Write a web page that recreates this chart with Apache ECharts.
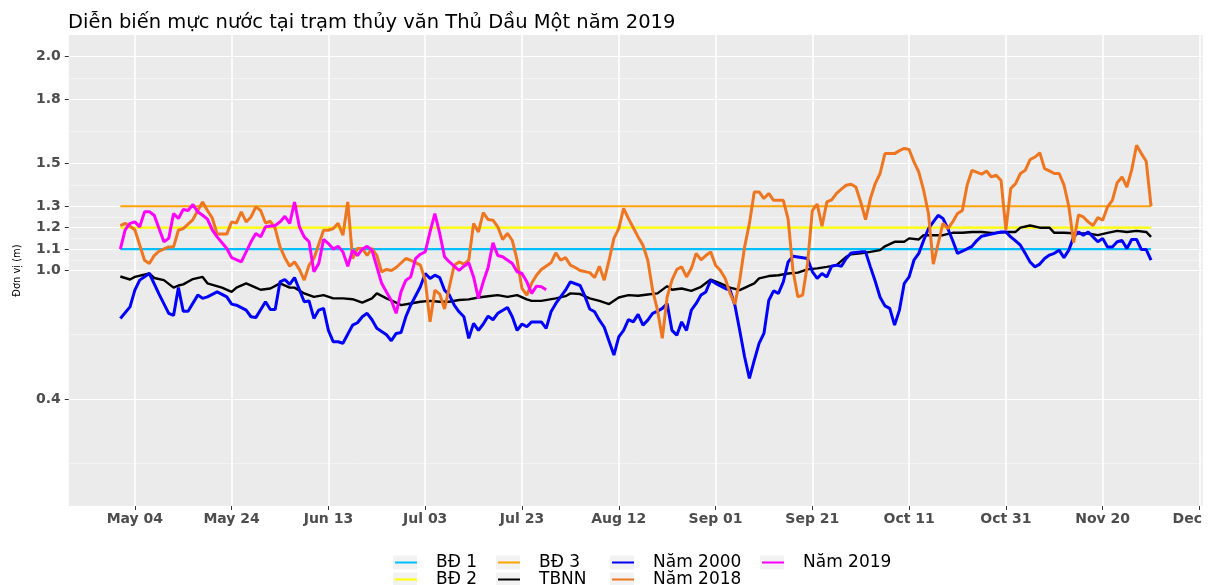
<!DOCTYPE html>
<html>
<head>
<meta charset="utf-8">
<title>Diễn biến mực nước tại trạm thủy văn Thủ Dầu Một năm 2019</title>
<script src="https://cdn.jsdelivr.net/npm/echarts@6/dist/echarts.min.js"></script>
<style>
  html, body { margin: 0; padding: 0; background: #fff; }
  #chart { width: 1208px; height: 585px; }
</style>
</head>
<body>
<div id="chart"></div>
<script>
// x = days counted from 01 May 2019 (day 0)
const xTickDays = [3, 23, 43, 63, 83, 103, 123, 143, 163, 183, 203, 223];
const xTickLabels = ['May 04', 'May 24', 'Jun 13', 'Jul 03', 'Jul 23', 'Aug 12',
  'Sep 01', 'Sep 21', 'Oct 11', 'Oct 31', 'Nov 20', 'Dec 10'];
const yTicks = [0.4, 1.0, 1.1, 1.2, 1.3, 1.5, 1.8, 2.0];
const yMinorTicks = [0.1, 0.7, 1.05, 1.15, 1.25, 1.4, 1.65, 1.9];

const firstDay = 0, lastDay = 213;
const bd1 = 1.1, bd2 = 1.2, bd3 = 1.3;

// [day, water level (m)]
const nam2000 = [[0,0.776],[2,0.83],[3,0.908],[4,0.955],[6,0.986],[8,0.89],[10,0.80],[11,0.79],[12,0.92],[13,0.81],[14,0.81],[16,0.885],[17,0.87],[18,0.877],[20,0.90],[22,0.877],[23,0.843],[24,0.838],[26,0.815],[27,0.784],[28,0.78],[30,0.854],[31,0.818],[32,0.818],[33,0.947],[34,0.958],[35,0.935],[36,0.967],[37,0.91],[38,0.854],[39,0.858],[40,0.776],[41,0.815],[42,0.823],[43,0.72],[44,0.667],[45,0.667],[46,0.66],[48,0.745],[49,0.756],[50,0.784],[51,0.80],[52,0.77],[53,0.73],[55,0.70],[56,0.672],[57,0.706],[58,0.71],[59,0.784],[60,0.838],[62,0.924],[63,0.986],[64,0.963],[65,0.978],[66,0.967],[67,0.908],[68,0.885],[69,0.838],[70,0.807],[71,0.784],[72,0.683],[73,0.753],[74,0.72],[75,0.75],[76,0.787],[77,0.77],[78,0.80],[80,0.827],[81,0.784],[82,0.72],[83,0.75],[84,0.737],[85,0.76],[87,0.76],[88,0.73],[89,0.807],[90,0.846],[92,0.908],[93,0.947],[95,0.93],[96,0.88],[97,0.82],[98,0.807],[99,0.768],[100,0.735],[101,0.67],[102,0.605],[103,0.69],[104,0.72],[105,0.77],[106,0.76],[107,0.795],[108,0.745],[109,0.768],[110,0.80],[111,0.81],[112,0.823],[113,0.846],[114,0.72],[115,0.698],[116,0.76],[117,0.72],[118,0.815],[119,0.846],[120,0.885],[121,0.90],[122,0.955],[123,0.94],[125,0.916],[126,0.908],[127,0.838],[128,0.72],[129,0.597],[130,0.496],[131,0.58],[132,0.66],[133,0.706],[134,0.86],[135,0.905],[136,0.893],[137,0.947],[138,1.04],[139,1.067],[141,1.06],[142,1.056],[143,0.995],[144,0.963],[145,0.986],[146,0.97],[147,1.02],[148,1.025],[149,1.02],[150,1.056],[151,1.082],[153,1.087],[154,1.087],[155,1.017],[156,0.95],[157,0.875],[158,0.835],[159,0.823],[160,0.745],[161,0.815],[162,0.94],[163,0.97],[164,1.048],[165,1.08],[166,1.14],[167,1.196],[168,1.227],[169,1.258],[170,1.243],[171,1.196],[172,1.14],[173,1.08],[174,1.09],[176,1.113],[177,1.14],[178,1.16],[180,1.17],[182,1.18],[183,1.18],[184,1.157],[185,1.138],[186,1.118],[187,1.08],[188,1.04],[189,1.017],[190,1.03],[191,1.056],[192,1.072],[193,1.08],[194,1.095],[195,1.06],[196,1.095],[197,1.157],[198,1.18],[199,1.165],[200,1.18],[201,1.157],[202,1.134],[203,1.15],[204,1.11],[205,1.11],[206,1.134],[207,1.14],[208,1.103],[209,1.145],[210,1.145],[211,1.098],[212,1.098],[213,1.048]];

const nam2018 = [[0,1.21],[1,1.22],[2,1.207],[3,1.19],[5,1.048],[6,1.033],[7,1.07],[8,1.09],[10,1.11],[11,1.11],[12,1.188],[13,1.196],[15,1.238],[16,1.28],[17,1.32],[18,1.28],[19,1.245],[20,1.17],[22,1.17],[23,1.227],[24,1.222],[25,1.274],[26,1.227],[27,1.25],[28,1.297],[29,1.28],[30,1.222],[31,1.23],[32,1.196],[33,1.11],[34,1.06],[35,1.02],[36,1.04],[37,1.005],[38,0.955],[39,1.025],[40,1.056],[42,1.188],[43,1.188],[44,1.196],[45,1.22],[46,1.165],[47,1.32],[48,1.056],[49,1.103],[50,1.103],[51,1.07],[52,1.103],[53,1.07],[54,0.994],[55,1.005],[56,1.0],[57,1.014],[59,1.056],[60,1.048],[62,1.025],[63,0.955],[64,0.76],[65,0.908],[66,0.89],[67,0.82],[68,0.924],[69,1.025],[70,1.04],[71,1.03],[72,1.048],[73,1.22],[74,1.18],[75,1.27],[76,1.238],[77,1.235],[78,1.204],[79,1.145],[80,1.173],[81,1.14],[82,1.048],[83,0.916],[84,0.885],[85,0.94],[86,0.978],[87,1.005],[89,1.036],[90,1.082],[91,1.048],[92,1.06],[93,1.025],[94,1.014],[95,1.0],[97,0.99],[98,0.967],[99,1.02],[100,0.955],[101,1.048],[102,1.15],[103,1.196],[104,1.29],[105,1.243],[106,1.2],[107,1.157],[108,1.118],[109,1.048],[110,0.908],[111,0.815],[112,0.683],[113,0.877],[114,0.955],[115,1.005],[116,1.017],[117,0.97],[118,1.01],[119,1.08],[120,1.05],[121,1.07],[122,1.087],[123,1.025],[124,1.0],[125,0.963],[126,0.893],[127,0.843],[128,0.955],[129,1.11],[130,1.22],[131,1.367],[132,1.367],[133,1.336],[134,1.36],[135,1.328],[137,1.328],[138,1.24],[139,1.0],[140,0.877],[141,0.885],[142,1.03],[143,1.28],[144,1.31],[145,1.207],[146,1.32],[147,1.33],[148,1.36],[149,1.38],[150,1.398],[151,1.403],[152,1.39],[153,1.32],[154,1.238],[155,1.336],[156,1.406],[157,1.453],[158,1.546],[160,1.546],[161,1.56],[162,1.57],[163,1.565],[164,1.507],[165,1.46],[166,1.375],[167,1.266],[168,1.03],[169,1.126],[170,1.22],[171,1.196],[172,1.227],[173,1.266],[174,1.28],[175,1.40],[176,1.468],[178,1.45],[179,1.465],[180,1.437],[181,1.445],[182,1.42],[183,1.19],[184,1.383],[185,1.406],[186,1.453],[187,1.468],[188,1.518],[189,1.53],[190,1.55],[191,1.476],[192,1.465],[193,1.453],[194,1.453],[195,1.40],[196,1.3],[197,1.13],[198,1.26],[199,1.25],[200,1.227],[201,1.21],[202,1.247],[203,1.235],[204,1.297],[205,1.328],[206,1.41],[207,1.437],[208,1.39],[209,1.47],[210,1.585],[211,1.546],[212,1.51],[213,1.30]];

const nam2019 = [[0,1.10],[1,1.19],[2,1.22],[3,1.227],[4,1.204],[5,1.274],[6,1.274],[7,1.258],[9,1.134],[10,1.15],[11,1.266],[12,1.243],[13,1.285],[14,1.28],[15,1.308],[16,1.274],[17,1.258],[18,1.24],[19,1.19],[20,1.157],[22,1.103],[23,1.06],[25,1.04],[27,1.134],[28,1.173],[29,1.157],[30,1.204],[32,1.21],[33,1.227],[34,1.253],[35,1.22],[36,1.32],[37,1.204],[38,1.157],[39,1.134],[40,0.994],[41,1.033],[42,1.145],[43,1.126],[44,1.10],[45,1.113],[46,1.087],[47,1.02],[48,1.095],[49,1.07],[50,1.10],[51,1.113],[52,1.095],[54,0.94],[55,0.90],[56,0.86],[57,0.80],[58,0.90],[59,0.955],[60,0.97],[61,1.056],[62,1.076],[63,1.087],[64,1.18],[65,1.266],[66,1.173],[67,1.064],[68,1.04],[70,1.0],[71,1.02],[72,1.036],[73,0.97],[74,0.87],[75,0.947],[76,1.014],[77,1.13],[78,1.07],[79,1.064],[81,1.033],[82,0.994],[83,0.986],[84,0.947],[85,0.893],[86,0.927],[87,0.924],[88,0.91]];

const tbnn = [[0,0.972],[2,0.958],[3,0.97],[6,0.986],[7,0.965],[9,0.955],[11,0.92],[12,0.93],[13,0.935],[15,0.96],[17,0.97],[18,0.94],[21,0.92],[23,0.90],[24,0.92],[26,0.94],[28,0.92],[29,0.91],[31,0.916],[33,0.94],[35,0.92],[36,0.92],[38,0.893],[40,0.877],[42,0.885],[44,0.87],[46,0.87],[48,0.866],[50,0.85],[52,0.87],[53,0.893],[55,0.87],[57,0.85],[58,0.838],[60,0.846],[62,0.854],[64,0.858],[66,0.854],[68,0.854],[70,0.862],[72,0.865],[74,0.874],[76,0.88],[78,0.885],[80,0.877],[82,0.885],[84,0.865],[85,0.858],[87,0.858],[90,0.87],[92,0.88],[93,0.893],[95,0.89],[97,0.87],[99,0.858],[101,0.843],[103,0.874],[105,0.885],[107,0.882],[109,0.888],[111,0.893],[113,0.927],[114,0.91],[116,0.916],[118,0.905],[120,0.924],[122,0.958],[124,0.94],[126,0.92],[128,0.908],[131,0.94],[132,0.963],[134,0.974],[136,0.978],[138,0.986],[140,0.99],[142,1.005],[144,1.01],[146,1.017],[148,1.025],[150,1.064],[151,1.076],[153,1.08],[155,1.087],[157,1.095],[158,1.113],[160,1.134],[162,1.134],[163,1.15],[165,1.145],[166,1.165],[168,1.165],[170,1.165],[172,1.176],[174,1.176],[176,1.18],[178,1.18],[180,1.175],[181,1.176],[183,1.18],[185,1.18],[186,1.2],[188,1.21],[190,1.2],[192,1.2],[193,1.176],[195,1.176],[198,1.173],[200,1.173],[202,1.165],[204,1.176],[206,1.185],[208,1.18],[210,1.185],[212,1.18],[213,1.157]];

// legend: ggplot fills it column by column, two rows
const legendNames = ['BĐ 1', 'BĐ 2', 'BĐ 3', 'TBNN', 'Năm 2000', 'Năm 2018', 'Năm 2019'];
const legendLefts = [394, 497, 611, 761];
const legendTops = [554, 571];

function line(name, data, color, width) {
  return {
    name: name, type: 'line', data: data, symbol: 'none', animation: false,
    lineStyle: { color: color, width: width }, itemStyle: { color: color }
  };
}

// each key is two stacked legends laid out the same way:
// a grey box below, the series line (symbol hidden) on top
function legendItem(name, i, isBox) {
  const item = {
    data: [name], padding: 0, itemHeight: 14,
    left: legendLefts[Math.floor(i / 2)] - (isBox ? 1 : 0), top: legendTops[i % 2],
    itemWidth: isBox ? 24 : 22, z: isBox ? 4 : 5,
    textStyle: {
      fontSize: 17, lineHeight: 14, color: isBox ? 'rgba(0,0,0,0)' : '#000',
      padding: [0, 0, 0, isBox ? 13 : 14]
    }
  };
  if (isBox) {
    item.icon = 'rect';
    item.itemStyle = { color: '#F2F2F2', borderWidth: 0 };
  } else {
    item.itemStyle = { opacity: 0, borderWidth: 0 };
  }
  return item;
}

const chart = echarts.init(document.getElementById('chart'));
chart.setOption({
  backgroundColor: '#fff',
  textStyle: { fontFamily: 'DejaVu Sans' },
  title: {
    text: 'Diễn biến mực nước tại trạm thủy văn Thủ Dầu Một năm 2019',
    left: 63, top: 8,
    textStyle: { fontSize: 19.5, fontWeight: 'normal', color: '#000', fontFamily: 'DejaVu Sans' }
  },
  grid: {
    left: 68.8, right: 5.4, top: 35, bottom: 79, outerBoundsMode: 'none',
    show: true, backgroundColor: '#EBEBEB', borderWidth: 0
  },
  legend: legendNames.map((name, i) => legendItem(name, i, true))
    .concat(legendNames.map((name, i) => legendItem(name, i, false))),
  xAxis: {
    type: 'value', min: -10.65, max: 223.65,
    axisLine: { show: false, onZero: false },
    axisTick: { customValues: xTickDays, length: 4, lineStyle: { color: '#333' } },
    axisLabel: {
      customValues: xTickDays, margin: 6,
      formatter: v => xTickLabels[xTickDays.indexOf(v)],
      fontSize: 14, fontWeight: 'bold', color: '#4D4D4D'
    },
    splitLine: { show: true, lineStyle: { color: '#fff', width: 1.6 } }
  },
  yAxis: [{
    type: 'value', min: -0.1, max: 2.1,
    name: 'Đơn vị (m)', nameLocation: 'middle', nameGap: 46, nameRotate: 90,
    nameTextStyle: { fontSize: 11, color: '#000', fontFamily: 'DejaVu Sans Condensed' },
    axisLine: { show: false, onZero: false },
    axisTick: { show: true, customValues: yTicks, length: 4, lineStyle: { color: '#333' } },
    axisLabel: {
      customValues: yTicks, margin: 8,
      formatter: v => v.toFixed(1),
      fontSize: 14, fontWeight: 'bold', color: '#4D4D4D'
    },
    splitLine: { show: true, lineStyle: { color: '#fff', width: 1.2 } }
  }, {
    type: 'value', min: -0.1, max: 2.1,
    axisLine: { show: false, onZero: false },
    axisTick: { show: false, customValues: yMinorTicks },
    axisLabel: { show: false, customValues: yMinorTicks },
    splitLine: { show: true, lineStyle: { color: '#F4F4F4', width: 1 } }
  }],
  series: [
    line('BĐ 1', [[firstDay, bd1], [lastDay, bd1]], '#00BFFF', 2.2),
    line('BĐ 2', [[firstDay, bd2], [lastDay, bd2]], '#FFFF00', 2.2),
    line('BĐ 3', [[firstDay, bd3], [lastDay, bd3]], '#FFA500', 2.2),
    line('TBNN', tbnn, '#000000', 2.4),
    line('Năm 2000', nam2000, '#0000FF', 3),
    line('Năm 2018', nam2018, '#EE7621', 3),
    line('Năm 2019', nam2019, '#FF00FF', 3)
  ]
});
window.addEventListener('resize', function () {
  chart.resize();
});
</script>
</body>
</html>
